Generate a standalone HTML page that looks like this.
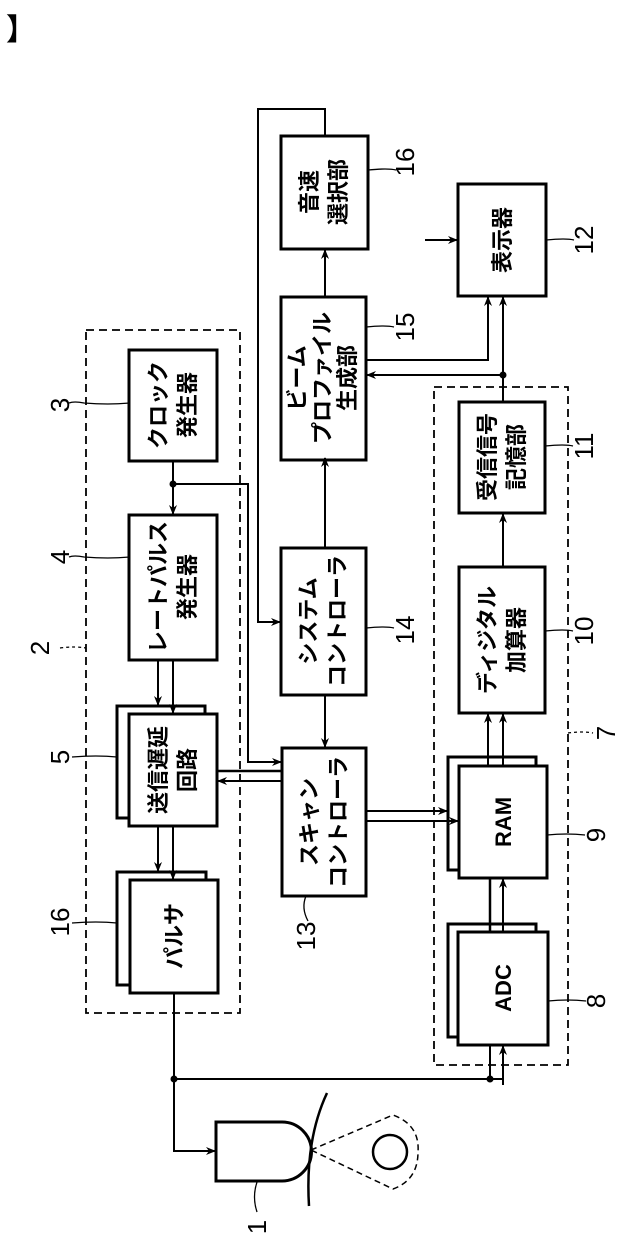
<!DOCTYPE html>
<html><head><meta charset="utf-8"><style>
html,body{margin:0;padding:0;background:#fff}
svg{display:block}
text{font-family:"Liberation Sans","Noto Sans CJK JP",sans-serif;fill:#000}
</style></head><body>
<svg width="629" height="1239" viewBox="0 0 629 1239" xmlns="http://www.w3.org/2000/svg">
<defs>
<marker id="a" markerWidth="10" markerHeight="10" refX="9" refY="5" orient="auto" markerUnits="userSpaceOnUse"><path d="M0,1 L10,5 L0,9 L3,5 z" fill="#000"/></marker>
</defs>
<text x="6" y="40" font-size="30" font-weight="bold">】</text>
<g fill="none" stroke="#000" stroke-width="1.8" stroke-dasharray="8,5">
<rect x="86" y="330" width="154" height="683"/>
<rect x="434" y="387" width="134" height="678"/>
</g>
<g fill="#fff" stroke="#000" stroke-width="3">
<rect x="129" y="350" width="88" height="111"/>
<rect x="129" y="515" width="88" height="145"/>
<rect x="117" y="706" width="88" height="112"/>
<rect x="129" y="714" width="88" height="112"/>
<rect x="117" y="872" width="89" height="113"/>
<rect x="130" y="880" width="88" height="113"/>
<rect x="281" y="548" width="85" height="147"/>
<rect x="282" y="748" width="84" height="148"/>
<rect x="281" y="297" width="85" height="163"/>
<rect x="281" y="136" width="87" height="113"/>
<rect x="458" y="184" width="88" height="112"/>
<rect x="459" y="402" width="86" height="111"/>
<rect x="459" y="567" width="86" height="146"/>
<rect x="448" y="757" width="88" height="113"/>
<rect x="459" y="766" width="88" height="112"/>
<rect x="448" y="924" width="88" height="113"/>
<rect x="458" y="932" width="90" height="113"/>
</g>
<g fill="none" stroke="#000" stroke-width="2">
<line x1="173" y1="461" x2="173" y2="514" marker-end="url(#a)"/>
<polyline points="173,484 248,484 248,762 281,762" marker-end="url(#a)"/>
<polyline points="325,135 325,109 258,109 258,622 280,622" marker-end="url(#a)"/>
<line x1="158" y1="660" x2="158" y2="705" marker-end="url(#a)"/>
<line x1="173" y1="660" x2="173" y2="713" marker-end="url(#a)"/>
<line x1="158" y1="826" x2="158" y2="871" marker-end="url(#a)"/>
<line x1="173" y1="826" x2="173" y2="879" marker-end="url(#a)"/>
<line x1="282" y1="771" x2="217" y2="771" stroke-width="2.5"/>
<line x1="282" y1="781" x2="218" y2="781" marker-end="url(#a)"/>
<line x1="325" y1="695" x2="325" y2="747" marker-end="url(#a)"/>
<line x1="325" y1="548" x2="325" y2="458" marker-end="url(#a)"/>
<line x1="325" y1="297" x2="325" y2="250" marker-end="url(#a)"/>
<line x1="366" y1="811" x2="447" y2="811" marker-end="url(#a)"/>
<line x1="366" y1="821" x2="458" y2="821" marker-end="url(#a)"/>
<line x1="490" y1="932" x2="490" y2="878" stroke-width="2.5"/>
<line x1="503" y1="932" x2="503" y2="879" marker-end="url(#a)"/>
<line x1="488" y1="766" x2="488" y2="714" marker-end="url(#a)"/>
<line x1="503" y1="766" x2="503" y2="714" marker-end="url(#a)"/>
<line x1="503" y1="567" x2="503" y2="514" marker-end="url(#a)"/>
<line x1="503" y1="402" x2="503" y2="297" marker-end="url(#a)"/>
<line x1="503" y1="375" x2="367" y2="375" marker-end="url(#a)"/>
<polyline points="366,360 488,360 488,297" marker-end="url(#a)"/>
<line x1="425" y1="240" x2="457" y2="240" marker-end="url(#a)"/>
<line x1="174" y1="993" x2="174" y2="1079"/>
<line x1="174" y1="1079" x2="503" y2="1079"/>
<line x1="490" y1="1079" x2="490" y2="1045"/>
<line x1="503" y1="1085" x2="503" y2="1046" marker-end="url(#a)"/>
<polyline points="174,1079 174,1151 215,1151" marker-end="url(#a)"/>
</g>
<g fill="#000"><circle cx="173" cy="484" r="3.5"/><circle cx="503" cy="375" r="3.5"/><circle cx="174" cy="1079" r="3.5"/><circle cx="490" cy="1079" r="3.5"/></g>
<path d="M216,1122 L282,1122 A29,29 0 0 1 282,1181 L216,1181 Z" fill="none" stroke="#000" stroke-width="3"/>
<path d="M327,1093 Q305,1140 309,1206" fill="none" stroke="#000" stroke-width="2.5"/>
<path d="M311,1150 L393,1115 Q420,1125 418,1152 Q418,1180 393,1189 L311,1150" fill="none" stroke="#000" stroke-width="1.5" stroke-dasharray="6,4"/>
<circle cx="390" cy="1152" r="17" fill="none" stroke="#000" stroke-width="2.5"/>
<g fill="none" stroke="#000" stroke-width="1.3">
<path d="M257,1182 q-5,15 0,30"/>
<path d="M129,403 q-20,2 -45,0 q-10,-2 -15,0"/>
<path d="M129,557 q-20,2 -45,0 q-10,-2 -15,0"/>
<path d="M117,757 q-20,-2 -45,0"/>
<path d="M117,923 q-20,-2 -45,0"/>
<path d="M60,648 q15,-2 26,0" stroke-dasharray="3,3"/>
<path d="M306,896 q-5,12 2,25"/>
<path d="M366,628 q20,-2 28,0"/>
<path d="M366,327 q20,-2 28,0"/>
<path d="M368,170 q20,-2 28,0"/>
<path d="M546,240 q20,-2 28,0"/>
<path d="M545,446 q20,-2 28,0"/>
<path d="M545,631 q20,-2 28,0"/>
<path d="M568,733 q15,-2 25,0" stroke-dasharray="3,3"/>
<path d="M547,835 q20,-2 38,0"/>
<path d="M548,1001 q20,-2 38,0"/>
</g>
<g font-size="22" font-weight="bold">
<text transform="translate(173,405) rotate(-90)" text-anchor="middle"><tspan x="0" y="-7">クロック</tspan><tspan x="0" y="22">発生器</tspan></text>
<text transform="translate(173,587) rotate(-90)" text-anchor="middle"><tspan x="0" y="-7">レートパルス</tspan><tspan x="0" y="22">発生器</tspan></text>
<text transform="translate(173,770) rotate(-90)" text-anchor="middle"><tspan x="0" y="-7">送信遅延</tspan><tspan x="0" y="22">回路</tspan></text>
<text transform="translate(174,936) rotate(-90)" text-anchor="middle"><tspan x="0" y="8">パルサ</tspan></text>
<text transform="translate(323,621) rotate(-90)" text-anchor="middle"><tspan x="0" y="-7">システム</tspan><tspan x="0" y="22">コントローラ</tspan></text>
<text transform="translate(324,822) rotate(-90)" text-anchor="middle"><tspan x="0" y="-7">スキャン</tspan><tspan x="0" y="22">コントローラ</tspan></text>
<text transform="translate(323,378) rotate(-90)" text-anchor="middle"><tspan x="0" y="-18">ビーム</tspan><tspan x="0" y="7">プロファイル</tspan><tspan x="0" y="32">生成部</tspan></text>
<text transform="translate(324,192) rotate(-90)" text-anchor="middle"><tspan x="0" y="-7">音速</tspan><tspan x="0" y="22">選択部</tspan></text>
<text transform="translate(502,240) rotate(-90)" text-anchor="middle"><tspan x="0" y="8">表示器</tspan></text>
<text transform="translate(502,457) rotate(-90)" text-anchor="middle"><tspan x="0" y="-7">受信信号</tspan><tspan x="0" y="22">記憶部</tspan></text>
<text transform="translate(502,640) rotate(-90)" text-anchor="middle"><tspan x="0" y="-7">ディジタル</tspan><tspan x="0" y="22">加算器</tspan></text>
<text transform="translate(503,822) rotate(-90)" text-anchor="middle"><tspan x="0" y="8">RAM</tspan></text>
<text transform="translate(503,988) rotate(-90)" text-anchor="middle"><tspan x="0" y="8">ADC</tspan></text>
</g>
<g font-size="26" text-anchor="middle">
<text transform="translate(60,405) rotate(-90)" y="9">3</text>
<text transform="translate(60,557) rotate(-90)" y="9">4</text>
<text transform="translate(40,648) rotate(-90)" y="9">2</text>
<text transform="translate(60,757) rotate(-90)" y="9">5</text>
<text transform="translate(60,922) rotate(-90)" y="9">16</text>
<text transform="translate(306,936) rotate(-90)" y="9">13</text>
<text transform="translate(405,630) rotate(-90)" y="9">14</text>
<text transform="translate(405,327) rotate(-90)" y="9">15</text>
<text transform="translate(405,162) rotate(-90)" y="9">16</text>
<text transform="translate(584,240) rotate(-90)" y="9">12</text>
<text transform="translate(584,446) rotate(-90)" y="9">11</text>
<text transform="translate(584,631) rotate(-90)" y="9">10</text>
<text transform="translate(606,733) rotate(-90)" y="9">7</text>
<text transform="translate(596,835) rotate(-90)" y="9">9</text>
<text transform="translate(596,1001) rotate(-90)" y="9">8</text>
<text transform="translate(257,1227) rotate(-90)" y="9">1</text>
</g>
</svg>
</body></html>
